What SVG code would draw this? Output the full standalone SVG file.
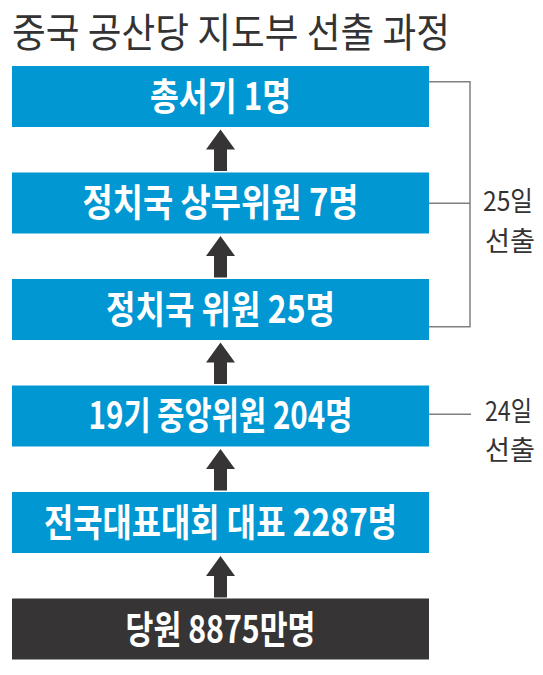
<svg xmlns="http://www.w3.org/2000/svg" width="543" height="675" viewBox="0 0 543 675">
<defs>
<style>
.box{fill:#0097d3}
.dark{fill:#373435}
.bt{font-family:"Noto Sans CJK KR","Noto Sans",sans-serif;font-weight:700;font-size:38px;fill:#fff;text-anchor:middle}
.side{font-family:"Noto Sans CJK KR","Noto Sans",sans-serif;font-weight:400;font-size:27px;fill:#333}
.br{fill:none;stroke:#808080;stroke-width:1.5}
.arr{fill:#373435}
</style>
<path id="ar" d="M220.5,0 L235,20 L227,20 L227,41.5 L214,41.5 L214,20 L206,20 Z"/>
</defs>
<rect width="543" height="675" fill="#fff"/>
<text x="12" y="46.5" font-family="'Noto Sans CJK KR','Noto Sans',sans-serif" font-size="40" fill="#333" textLength="438" lengthAdjust="spacingAndGlyphs">중국 공산당 지도부 선출 과정</text>
<g id="connectors">
<use href="#ar" class="arr" transform="translate(0,129.5)"/>
<use href="#ar" class="arr" transform="translate(0,236)"/>
<use href="#ar" class="arr" transform="translate(0,342.5)"/>
<use href="#ar" class="arr" transform="translate(0,449)"/>
<use href="#ar" class="arr" transform="translate(0,556)"/>
<path class="br" d="M429,81.7 H470 V326.7 H429 M429,203.3 H470"/>
<path class="br" d="M429,414.3 H471"/>
</g>
<g id="n1"><rect class="box" x="12" y="66" width="417" height="61"/><text class="bt" x="220.5" y="110" textLength="141" lengthAdjust="spacingAndGlyphs">총서기 1명</text></g>
<g id="n2"><rect class="box" x="12" y="172.5" width="417" height="61"/><text class="bt" x="220.5" y="216" textLength="276" lengthAdjust="spacingAndGlyphs">정치국 상무위원 7명</text></g>
<g id="n3"><rect class="box" x="12" y="279" width="417" height="61"/><text class="bt" x="220.5" y="322.5" textLength="229" lengthAdjust="spacingAndGlyphs">정치국 위원 25명</text></g>
<g id="n4"><rect class="box" x="12" y="385.5" width="417" height="61"/><text class="bt" x="220.5" y="429" textLength="264" lengthAdjust="spacingAndGlyphs">19기 중앙위원 204명</text></g>
<g id="n5"><rect class="box" x="12" y="492" width="417" height="61"/><text class="bt" x="220.5" y="535.5" textLength="353" lengthAdjust="spacingAndGlyphs">전국대표대회 대표 2287명</text></g>
<g id="n6"><rect class="dark" x="12" y="598.5" width="417" height="61"/><text class="bt" x="220.5" y="642.5" textLength="190" lengthAdjust="spacingAndGlyphs">당원 8875만명</text></g>
<g id="l25"><text class="side" x="483" y="211" textLength="50" lengthAdjust="spacingAndGlyphs">25일</text><text class="side" x="485" y="250.5" textLength="50" lengthAdjust="spacingAndGlyphs">선출</text></g>
<g id="l24"><text class="side" x="485" y="420.5" textLength="47" lengthAdjust="spacingAndGlyphs">24일</text><text class="side" x="485" y="460" textLength="50" lengthAdjust="spacingAndGlyphs">선출</text></g>
</svg>
